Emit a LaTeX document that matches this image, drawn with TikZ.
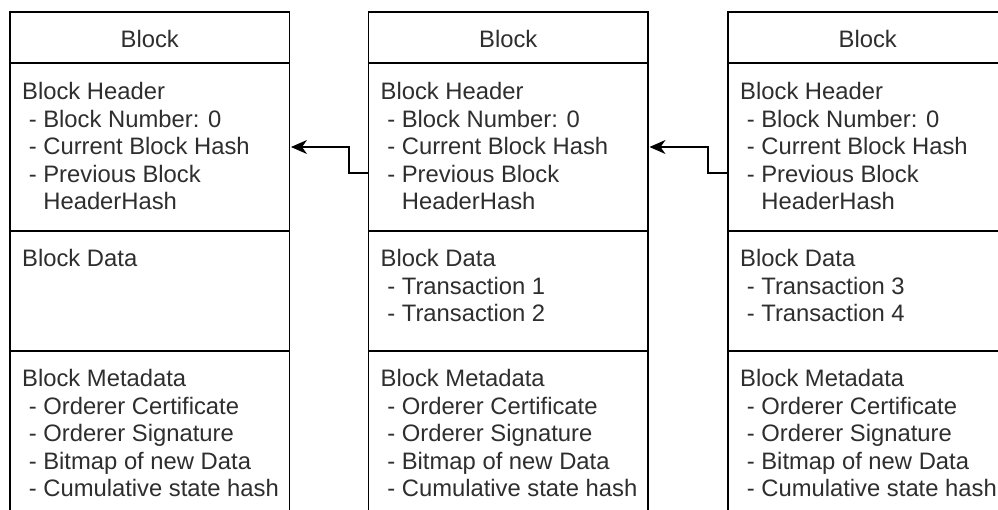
\documentclass[tikz,border=0pt]{standalone}
\usepackage{fontspec}
\setmainfont{Liberation Sans}
\usetikzlibrary{arrows.meta}
\definecolor{ink}{HTML}{2E2E2E}
\newcommand\itm{\hspace*{0.278em}- }
\newcommand\cont{\hspace*{0.889em}}
\begin{document}
\begin{tikzpicture}[x=1pt,y=-1pt,
  sect/.style={draw, line width=1.1pt, minimum width=279.5pt, inner sep=0pt, anchor=north west, outer sep=0pt},
  txt/.style={anchor=north west, align=left, inner sep=0pt, text=ink, font=\fontsize{23.8}{27.6}\selectfont},
  ttl/.style={anchor=base, inner sep=0pt, text=ink, font=\fontsize{23.8}{27.6}\selectfont},
  link/.style={draw, line width=1.1pt, -{Stealth[length=16pt,width=14pt,inset=5pt]}, shorten >=1.5pt}]
\useasboundingbox (0,0) rectangle (998,509);
\clip (0,0) rectangle (998,509);
\fill[white] (0,0) rectangle (998,509);

% three blocks, each: title, header, data, metadata
\foreach \n/\cx in {1/10, 2/368.5, 3/728} {
  \node[sect, minimum height=51pt]  (t\n) at (\cx,12)  {};
  \node[sect, minimum height=168pt] (h\n) at (\cx,63)  {};
  \node[sect, minimum height=120pt] (d\n) at (\cx,231) {};
  \node[sect, minimum height=189pt] (m\n) at (\cx,351) {};
  \node[ttl] (tt\n) at (\cx+139.75,47) {Block};
  \node[txt] (ht\n) at (\cx+12,82) {Block Header\\\itm Block Number: 0\\\itm Current Block Hash\\\itm Previous Block\\\cont HeaderHash};
  \node[txt] (mt\n) at (\cx+12,369) {Block Metadata\\\itm Orderer Certificate\\\itm Orderer Signature\\\itm Bitmap of new Data\\\itm Cumulative state hash};
}

\node[txt] (dt1) at (22,249) {Block Data};
\node[txt] (dt2) at (380.5,249) {Block Data\\\itm Transaction 1\\\itm Transaction 2};
\node[txt] (dt3) at (740,249) {Block Data\\\itm Transaction 3\\\itm Transaction 4};

% each header points back to the previous block's header
\draw[link] ([yshift=-26pt]h2.west) -- ++(-19.5,0) |- (h1.east);
\draw[link] ([yshift=-26pt]h3.west) -- ++(-20,0) |- (h2.east);
\end{tikzpicture}
\end{document}
